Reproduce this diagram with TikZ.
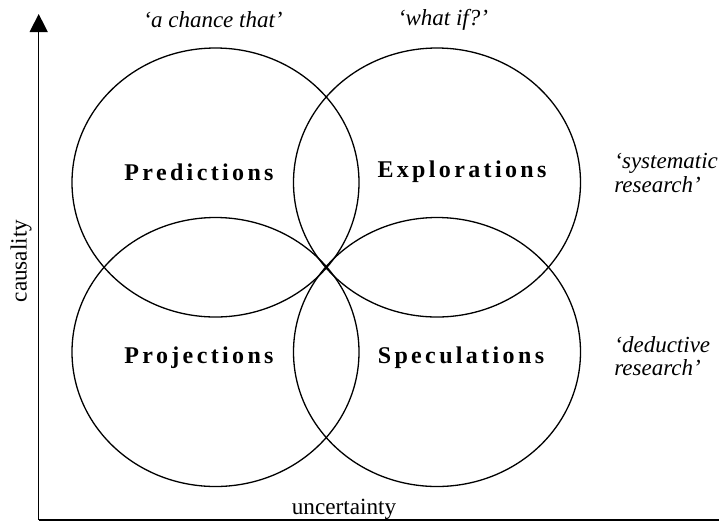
\documentclass[tikz,border=0pt]{standalone}
\usepackage{fontspec}
\setmainfont{Liberation Serif}
\usetikzlibrary{arrows.meta,shapes.geometric}

\begin{document}
\begin{tikzpicture}
[x=0.5pt, y=-0.5pt,
    field/.style={draw, ellipse, line width=0.65pt, inner sep=0pt,
        minimum width=143.5pt, minimum height=134.5pt},
    kind/.style={font=\fontsize{12}{14}\selectfont\bfseries\addfontfeature{LetterSpace=14}},
    quote/.style={font=\fontsize{11.5}{11.8}\selectfont\itshape, align=left},
    axislabel/.style={font=\fontsize{11.6}{14}\selectfont}]
    \useasboundingbox (0,0) rectangle (719,527);
    % axes
    \coordinate (origin) at (38.7,520);
    \coordinate (top) at (38.7,14);
    \coordinate (right) at (719,520);
    \draw[line width=0.7pt, -{Triangle[length=9pt,width=9pt]}] (origin) -- (top);
    \draw[line width=0.7pt] (origin) -- (right);
    \node[axislabel, rotate=90] (causality) at (21,261) {causality};
    \node[axislabel] (uncertainty) at (344,509) {uncertainty};
    % the four fields
    \node[field] (pred) at (215.5,182.5) {};
    \node[field] (expl) at (437,182.5) {};
    \node[field] (proj) at (215.5,352) {};
    \node[field] (spec) at (437,352) {};
    \node[kind] (predtext) at (199,172) {Predictions};
    \node[kind] (expltext) at (462,172) {Explorations};
    \node[kind] (projtext) at (199,358) {Projections};
    \node[kind] (spectext) at (461,358) {Speculations};
    % quotes
    \node[quote] (chance) at (213,20) {`a chance that'};
    \node[quote] (whatif) at (443,20) {`what if?'};
    \node[quote, anchor=west, inner sep=0pt] (systematic) at (614,173) {`systematic\\research'};
    \node[quote, anchor=west, inner sep=0pt] (deductive) at (614,356) {`deductive\\research'};
\end{tikzpicture}
\end{document}
